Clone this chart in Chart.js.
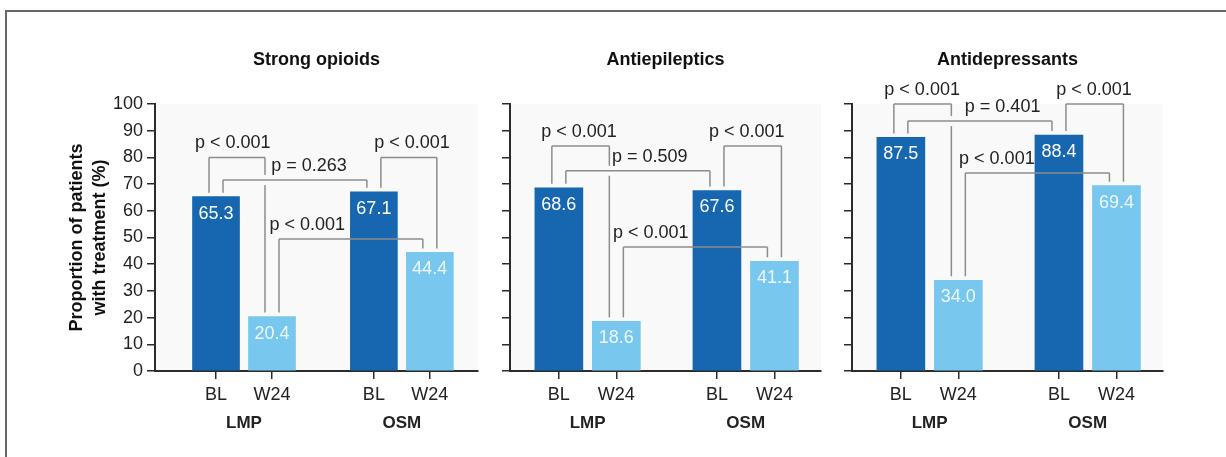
<!DOCTYPE html>
<html>
<head>
<meta charset="utf-8">
<script src="https://cdn.jsdelivr.net/npm/chart.js@4.4.1/dist/chart.umd.min.js"></script>
<style>
  html, body { margin: 0; padding: 0; background: #fff; }
  body { width: 1226px; height: 457px; position: relative; overflow: hidden; }
  #frame { position: absolute; left: 5px; top: 10px; width: 1240px; height: 470px;
           border-left: 2px solid #666; border-top: 2px solid #666; }
  .panel { position: absolute; top: 0; height: 457px; }
</style>
</head>
<body>
<div id="frame"></div>
<div class="panel" style="left:0px;width:490px"><canvas id="c0"></canvas></div>
<div class="panel" style="left:490px;width:340px"><canvas id="c1"></canvas></div>
<div class="panel" style="left:830px;width:350px"><canvas id="c2"></canvas></div>
<script>
// data
const panelTitles = ['Strong opioids', 'Antiepileptics', 'Antidepressants'];
const timepoints = ['BL', 'W24', 'BL', 'W24'];
const groups = ['LMP', 'OSM'];
const opioidValues = [65.3, 20.4, 67.1, 44.4];
const antiepilepticValues = [68.6, 18.6, 67.6, 41.1];
const antidepressantValues = [87.5, 34.0, 88.4, 69.4];
const opioidP = ['p < 0.001', 'p = 0.263', 'p < 0.001', 'p < 0.001'];
const antiepilepticP = ['p < 0.001', 'p = 0.509', 'p < 0.001', 'p < 0.001'];
const antidepressantP = ['p < 0.001', 'p = 0.401', 'p < 0.001', 'p < 0.001'];
const comparisons = [[0, 1], [0, 2], [2, 3], [1, 3]];
const yTicks = [0, 10, 20, 30, 40, 50, 60, 70, 80, 90, 100];

const allValues = [opioidValues, antiepilepticValues, antidepressantValues];
const allP = [opioidP, antiepilepticP, antidepressantP];

// layout per panel (positions, not data)
const layouts = [
  { axisWidth: 155, padRight: 12, xMin: -1.09, xMax: 4.68, xPos: [0, 1, 2.82, 3.82], bar: 47,
    levels: [80, 71.5, 80, 49.4], labelX: [0.30, 1.66, 3.5, 1.63], showY: true },
  { axisWidth: 20, padRight: 9, xMin: -0.85, xMax: 4.56, xPos: [0, 1, 2.75, 3.75], bar: 48,
    levels: [84.3, 75, 84.3, 46.4], labelX: [0.35, 1.58, 3.27, 1.6], showY: false },
  { axisWidth: 22, padRight: 17, xMin: -0.85, xMax: 4.56, xPos: [0, 1, 2.75, 3.75], bar: 48,
    levels: [100, 93.6, 100, 74.2], labelX: [0.37, 1.77, 3.36, 1.67], showY: false }
];
const legOffsets = [[-7, -7], [7, -7], [7, 7], [7, -7]];

const FONT = "'Liberation Sans', Arial, Helvetica, sans-serif";
const DARK = '#1666b0';
const LIGHT = '#77c7ee';
const AXIS = '#2b2b2b';
const BRACKET = '#8c8c8c';

const annotations = {
  id: 'annotations',
  beforeDraw(chart) {
    const a = chart.chartArea;
    const ctx = chart.ctx;
    ctx.save();
    ctx.fillStyle = '#f9f9f9';
    ctx.fillRect(a.left, a.top, a.width, a.height);
    ctx.restore();
  },
  afterDatasetsDraw(chart) {
    const ctx = chart.ctx;
    const idx = chart.options.panelIndex;
    const values = allValues[idx];
    const bars = chart.getDatasetMeta(0).data;
    ctx.save();
    ctx.font = '18px ' + FONT;
    ctx.textAlign = 'center';
    ctx.textBaseline = 'middle';
    bars.forEach((b, i) => {
      ctx.fillStyle = i % 2 === 0 ? '#ffffff' : '#eef8fd';
      ctx.fillText(values[i].toFixed(1), b.x, b.y + 17);
    });
    ctx.restore();
  },
  afterDraw(chart) {
    const ctx = chart.ctx;
    const idx = chart.options.panelIndex;
    const L = layouts[idx];
    const xs = chart.scales.x, ys = chart.scales.y;
    const values = allValues[idx];
    const bars = chart.getDatasetMeta(0).data;

    // bracket geometry
    const br = comparisons.map((c, k) => {
      const x1 = bars[c[0]].x + legOffsets[k][0];
      const x2 = bars[c[1]].x + legOffsets[k][1];
      const top = ys.getPixelForValue(L.levels[k]);
      return { x1, x2, top,
        b1: ys.getPixelForValue(values[c[0]]) - 4,
        b2: ys.getPixelForValue(values[c[1]]) - 4 };
    });

    ctx.save();
    ctx.strokeStyle = BRACKET;
    ctx.lineWidth = 1.5;
    const leg = (x, y0, y1, self) => {
      // leave a small gap where another bracket's bar crosses this leg
      let segs = [[y0, y1]];
      br.forEach((o, k) => {
        if (k === self) return;
        if (x > o.x1 && x < o.x2 && o.top > y0 + 2 && o.top < y1 - 2) {
          const next = [];
          segs.forEach(s => {
            if (o.top > s[0] && o.top < s[1]) {
              next.push([s[0], o.top - 5], [o.top + 5, s[1]]);
            } else next.push(s);
          });
          segs = next;
        }
      });
      segs.forEach(s => {
        ctx.beginPath();
        ctx.moveTo(x, s[0]);
        ctx.lineTo(x, s[1]);
        ctx.stroke();
      });
    };
    br.forEach((b, k) => {
      ctx.beginPath();
      ctx.moveTo(b.x1, b.top);
      ctx.lineTo(b.x2, b.top);
      ctx.stroke();
      leg(b.x1, b.top, b.b1, k);
      leg(b.x2, b.top, b.b2, k);
    });

    ctx.fillStyle = '#222';
    ctx.font = '18px ' + FONT;
    ctx.textAlign = 'center';
    ctx.textBaseline = 'middle';
    br.forEach((b, k) => {
      ctx.fillText(allP[idx][k], xs.getPixelForValue(L.labelX[k]), b.top - 14);
    });

    // group labels under the tick labels
    ctx.font = 'bold 17px ' + FONT;
    groups.forEach((g, i) => {
      const cx = (xs.getPixelForValue(L.xPos[i * 2]) + xs.getPixelForValue(L.xPos[i * 2 + 1])) / 2;
      ctx.fillText(g, cx, chart.chartArea.bottom + 52);
    });
    ctx.restore();
  }
};

function makePanel(idx) {
  const L = layouts[idx];
  const values = allValues[idx];
  new Chart(document.getElementById('c' + idx), {
    type: 'bar',
    data: {
      datasets: [{
        data: values.map((v, i) => ({ x: L.xPos[i], y: v })),
        backgroundColor: values.map((v, i) => i % 2 === 0 ? DARK : LIGHT),
        borderWidth: 0,
        barThickness: L.bar
      }]
    },
    options: {
      panelIndex: idx,
      responsive: true,
      maintainAspectRatio: false,
      animation: false,
      layout: { padding: { left: 0, right: L.padRight, top: 0, bottom: 0 } },
      plugins: {
        legend: { display: false },
        tooltip: { enabled: false },
        title: {
          display: true,
          text: panelTitles[idx],
          fullSize: false,
          color: '#111',
          font: { family: FONT, size: 18, weight: 'bold', lineHeight: 1.2 },
          padding: { top: 49, bottom: 33.4 }
        }
      },
      scales: {
        x: {
          type: 'linear',
          min: L.xMin,
          max: L.xMax,
          offset: false,
          afterBuildTicks: s => { s.ticks = L.xPos.map(v => ({ value: v })); },
          afterFit: s => { s.height = 86; },
          grid: { display: true, drawOnChartArea: false, offset: false, tickLength: 8, color: AXIS, lineWidth: 1.5 },
          border: { color: AXIS, width: 2 },
          ticks: {
            autoSkip: false, maxRotation: 0, padding: 5, color: '#222',
            font: { family: FONT, size: 18 },
            callback: (v, i) => timepoints[i]
          }
        },
        y: {
          min: 0,
          max: 100,
          afterBuildTicks: s => { s.ticks = yTicks.map(v => ({ value: v })); },
          afterFit: s => { s.width = L.axisWidth; },
          grid: { drawOnChartArea: false, tickLength: 8, color: AXIS, lineWidth: 1.5 },
          border: { color: AXIS, width: 2 },
          ticks: {
            padding: 4, color: '#222',
            font: { family: FONT, size: 18 },
            callback: v => L.showY ? String(v) : ''
          },
          title: {
            display: L.showY,
            text: ['Proportion of patients', 'with treatment (%)'],
            color: '#111',
            font: { family: FONT, size: 18, weight: 'bold', lineHeight: 1.28 },
            padding: { top: 65.5, bottom: 0 }
          }
        }
      }
    },
    plugins: [annotations]
  });
}

[0, 1, 2].forEach(makePanel);
</script>
</body>
</html>
